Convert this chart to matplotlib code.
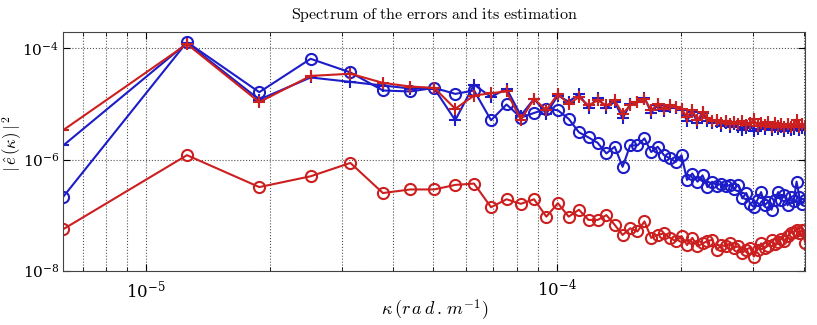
import numpy as np
import matplotlib
matplotlib.use('Agg')
import matplotlib.pyplot as plt
from matplotlib.ticker import LogLocator, NullFormatter, FixedLocator

plt.rcParams['mathtext.fontset'] = 'cm'
plt.rcParams['font.family'] = 'DejaVu Serif'

# wavenumber harmonics (kappa = n * 2pi / L)
harmonic = np.arange(1, 65)
kappa = harmonic * 2 * np.pi / 1e6

blue_circ = [2.15e-7, 1.3e-4, 1.63e-5, 6.5e-5, 3.7e-5, 1.75e-5, 1.68e-5, 1.95e-5,
             1.52e-5, 1.75e-5, 5.1e-6, 9.8e-6, 5.7e-6, 6.9e-6, 8.2e-6, 7.7e-6,
             5.4e-6, 3.1e-6, 2.5e-6, 2.0e-6, 1.29e-6, 1.7e-6, 7.4e-7, 1.8e-6,
             1.8e-6, 2.4e-6, 1.37e-6, 1.7e-6, 1.2e-6, 1.05e-6, 9.1e-7, 1.2e-6,
             4.3e-7, 5.6e-7, 4.0e-7, 5.2e-7, 3.2e-7, 4.0e-7, 3.4e-7, 3.7e-7,
             3.3e-7, 3.5e-7, 3.0e-7, 3.5e-7, 2.0e-7, 2.5e-7, 1.6e-7, 1.4e-7,
             1.9e-7, 2.6e-7, 1.5e-7, 1.75e-7, 1.25e-7, 1.9e-7, 2.6e-7, 1.9e-7,
             2.3e-7, 1.5e-7, 2.1e-7, 1.8e-7, 4.0e-7, 2.1e-7, 1.6e-7, 1.9e-7]

red_circ = [5.6e-8, 1.2e-6, 3.2e-7, 5.0e-7, 8.7e-7, 2.5e-7, 2.9e-7, 2.9e-7,
            3.5e-7, 3.7e-7, 1.39e-7, 1.93e-7, 1.6e-7, 1.93e-7, 9.4e-8, 1.64e-7,
            9.4e-8, 1.25e-7, 8.2e-8, 8.2e-8, 1.0e-7, 6.7e-8, 4.4e-8, 5.8e-8,
            5.1e-8, 7.7e-8, 3.9e-8, 4.4e-8, 4.7e-8, 3.9e-8, 3.4e-8, 4.2e-8,
            2.9e-8, 3.9e-8, 2.75e-8, 3.1e-8, 3.4e-8, 3.6e-8, 2.4e-8, 2.9e-8,
            2.75e-8, 3.1e-8, 2.6e-8, 2.75e-8, 2.1e-8, 2.4e-8, 2.6e-8, 1.8e-8,
            2.4e-8, 3.1e-8, 2.6e-8, 2.8e-8, 3.6e-8, 3.0e-8, 3.3e-8, 3.8e-8,
            3.4e-8, 4.2e-8, 4.8e-8, 5.0e-8, 5.4e-8, 4.8e-8, 5.5e-8, 3.2e-8]

blue_plus = [1.8e-6, 1.25e-4, 1.2e-5, 3.0e-5, 2.5e-5, 2.15e-5, 1.9e-5, 1.9e-5,
             5.1e-6, 2.24e-5, 1.33e-5, 1.9e-5, 6.2e-6, 1.24e-5, 6.7e-6, 1.42e-5,
             1.1e-5, 1.5e-5, 8.5e-6, 1.3e-5, 8.5e-6, 1.1e-5, 5.5e-6, 1.0e-5,
             1.1e-5, 1.3e-5, 7.0e-6, 9.5e-6, 7.5e-6, 9.0e-6, 8.5e-6, 7.8e-6,
             5.0e-6, 7.2e-6, 4.6e-6, 6.8e-6, 5.0e-6, 4.6e-6, 4.8e-6, 4.0e-6,
             4.5e-6, 3.9e-6, 4.3e-6, 3.8e-6, 3.4e-6, 3.7e-6, 4.1e-6, 3.3e-6,
             3.6e-6, 4.0e-6, 3.5e-6, 4.2e-6, 3.4e-6, 3.9e-6, 3.5e-6, 3.8e-6,
             3.3e-6, 3.7e-6, 3.4e-6, 3.6e-6, 4.0e-6, 3.4e-6, 3.7e-6, 3.5e-6]

red_plus = [3.4e-6, 1.2e-4, 1.08e-5, 3.2e-5, 3.5e-5, 2.4e-5, 2.06e-5, 1.95e-5,
            8.2e-6, 1.42e-5, 1.56e-5, 1.68e-5, 5.2e-6, 1.24e-5, 7.7e-6, 1.52e-5,
            1.0e-5, 1.33e-5, 9.4e-6, 1.16e-5, 9.4e-6, 1.16e-5, 6.7e-6, 9.4e-6,
            1.08e-5, 1.24e-5, 7.7e-6, 1.0e-5, 8.2e-6, 9.4e-6, 8.8e-6, 8.2e-6,
            5.8e-6, 7.7e-6, 5.1e-6, 7.2e-6, 5.5e-6, 5.0e-6, 5.2e-6, 4.6e-6,
            4.9e-6, 4.4e-6, 4.7e-6, 4.3e-6, 5.0e-6, 4.2e-6, 4.5e-6, 5.3e-6,
            4.0e-6, 4.6e-6, 4.2e-6, 4.8e-6, 3.9e-6, 4.5e-6, 4.0e-6, 4.4e-6,
            3.8e-6, 4.3e-6, 3.9e-6, 4.2e-6, 5.1e-6, 3.8e-6, 4.3e-6, 4.1e-6]

blue = '#1c1cc8'
red = '#cc1f1f'

fig = plt.figure(figsize=(8.17, 3.25), dpi=100)
ax = fig.add_axes([0.0775, 0.167, 0.908, 0.7355])

ax.loglog(kappa, red_circ, '-o', color=red, lw=1.5, ms=8, mfc='none', mew=1.5)
ax.loglog(kappa, blue_circ, '-o', color=blue, lw=1.5, ms=8, mfc='none', mew=1.5)
ax.loglog(kappa, blue_plus, '-+', color=blue, lw=1.5, ms=9, mew=1.5)
ax.loglog(kappa, red_plus, '-+', color=red, lw=1.5, ms=9, mew=1.5)

ax.set_xlim(kappa[0], kappa[-1])
ax.set_ylim(1e-8, 2e-4)

ax.xaxis.set_major_locator(LogLocator(base=10, numticks=10))
ax.xaxis.set_minor_locator(LogLocator(base=10, subs=np.arange(2, 10), numticks=20))
ax.xaxis.set_minor_formatter(NullFormatter())
ax.yaxis.set_major_locator(FixedLocator([1e-8, 1e-6, 1e-4]))
ax.yaxis.set_minor_locator(FixedLocator([]))

ax.tick_params(which='both', direction='in', top=True, right=True, labelsize=12)
ax.tick_params(axis='y', labelsize=11)
ax.tick_params(which='major', length=5)
ax.tick_params(which='minor', length=3)
ax.tick_params(axis='x', which='major', pad=6)
ax.tick_params(axis='y', which='major', pad=3)
for s in ax.spines.values():
    s.set_color('#444444')

ax.grid(True, which='both', axis='x', linestyle=':', color='#555555', lw=0.8)
ax.grid(True, which='major', axis='y', linestyle=':', color='#555555', lw=0.8)

ax.set_title(r'$\mathrm{Spectrum\ of\ the\ errors\ and\ its\ estimation}$', fontsize=11.5, pad=9)
ax.set_xlabel(r'$\kappa\,(r\,a\,d\,.\,m^{-1})$', fontsize=13, labelpad=-2)
ax.set_ylabel(r'$|\,\hat{e}\,(\kappa)\,|^{\,2}$', fontsize=12)
ax.yaxis.set_label_coords(-0.053, 0.53)

fig.savefig('out.png', dpi=100)
